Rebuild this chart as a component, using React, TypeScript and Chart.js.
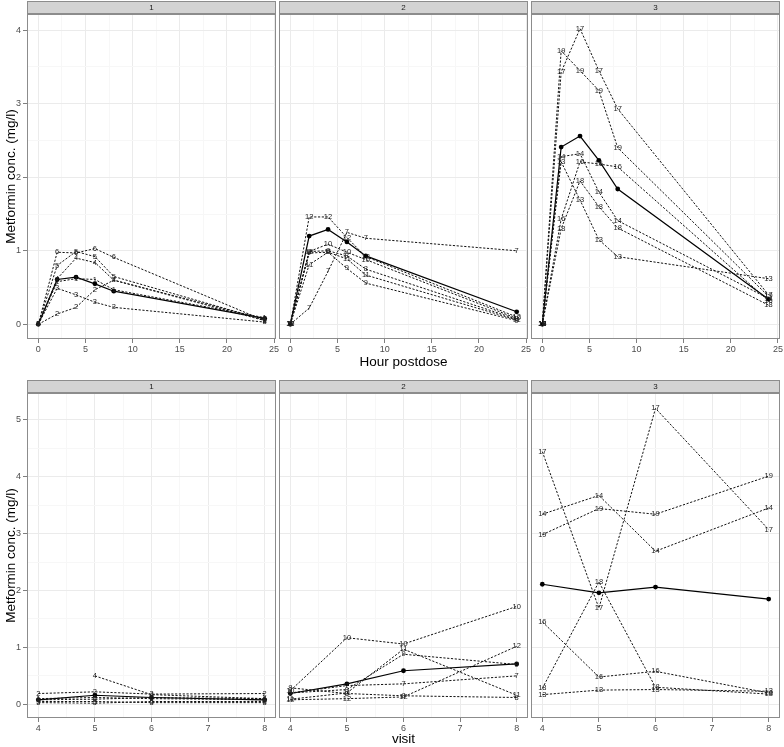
import React, { useEffect, useRef } from 'react';
import { Chart, registerables } from 'chart.js';

Chart.register(...registerables);

const FONT = '"Liberation Sans", Arial, Helvetica, sans-serif';
Chart.defaults.font.family = FONT;

// ---------- x positions ----------
const HOURS = [0, 2, 4, 6, 8, 24];
const VISITS = [4, 5, 6, 8];

// ---------- tick labels ----------
const HOUR_TICKS = [0, 5, 10, 15, 20, 25];
const HOUR_MINOR = [2.5, 7.5, 12.5, 17.5, 22.5];
const VISIT_TICKS = [4, 5, 6, 7, 8];
const VISIT_MINOR = [4.5, 5.5, 6.5, 7.5];
const CONC_TICKS_TOP = [0, 1, 2, 3, 4];
const CONC_MINOR_TOP = [0.5, 1.5, 2.5, 3.5];
const CONC_TICKS_BOTTOM = [0, 1, 2, 3, 4, 5];
const CONC_MINOR_BOTTOM = [0.5, 1.5, 2.5, 3.5, 4.5];

const STRIPS = ['1', '2', '3'];
const Y_TITLE = 'Metformin conc. (mg/l)';
const X_TITLE_TOP = 'Hour postdose';
const X_TITLE_BOTTOM = 'visit';

// ---------- top row: concentration by hour postdose ----------
// group 1
const hourG1_s6 = [0, 0.98, 0.97, 1.03, 0.91, 0.05];
const hourG1_s5 = [0, 0.8, 0.99, 0.92, 0.65, 0.06];
const hourG1_s4 = [0, 0.62, 0.9, 0.84, 0.6, 0.07];
const hourG1_s1 = [0, 0.58, 0.62, 0.61, 0.47, 0.09];
const hourG1_s3 = [0, 0.49, 0.4, 0.3, 0.23, 0.03];
const hourG1_s2 = [0, 0.14, 0.23, 0.47, 0.6, 0.05];
const hourG1_mean = [0, 0.61, 0.64, 0.55, 0.45, 0.08];
// group 2
const hourG2_s12 = [0, 1.46, 1.46, 1.18, 0.92, 0.1];
const hourG2_s7 = [0, 0.22, 0.72, 1.25, 1.17, 1.0];
const hourG2_s10 = [0, 0.99, 1.09, 0.98, 0.88, 0.08];
const hourG2_s8 = [0, 0.99, 1.0, 0.93, 0.75, 0.07];
const hourG2_s11 = [0, 0.81, 0.98, 0.89, 0.67, 0.06];
const hourG2_s9 = [0, 0.97, 0.98, 0.76, 0.56, 0.05];
const hourG2_mean = [0, 1.2, 1.29, 1.12, 0.93, 0.17];
// group 3
const hourG3_s17 = [0, 3.43, 4.02, 3.45, 2.93, 0.4];
const hourG3_s19 = [0, 3.72, 3.45, 3.18, 2.4, 0.38];
const hourG3_s14 = [0, 2.28, 2.32, 1.8, 1.41, 0.35];
const hourG3_s13 = [0, 2.21, 1.69, 1.15, 0.92, 0.62];
const hourG3_s16 = [0, 1.43, 2.21, 2.18, 2.14, 0.32];
const hourG3_s18 = [0, 1.3, 1.95, 1.6, 1.31, 0.26];
const hourG3_mean = [0, 2.41, 2.56, 2.23, 1.84, 0.34];

// ---------- bottom row: concentration by visit ----------
// group 1
const visitG1_s2 = [0.19, 0.22, 0.18, 0.19];
const visitG1_s4 = [null, 0.5, 0.17, 0.1];
const visitG1_s1 = [0.1, 0.12, 0.1, 0.08];
const visitG1_s6 = [0.08, 0.09, 0.12, 0.1];
const visitG1_s3 = [0.05, 0.05, 0.03, 0.03];
const visitG1_s5 = [0.03, 0.02, 0.05, 0.05];
const visitG1_mean = [0.08, 0.16, 0.12, 0.08];
// group 2
const visitG2_s10 = [0.24, 1.17, 1.06, 1.72];
const visitG2_s11 = [0.09, 0.2, 0.97, 0.16];
const visitG2_s9 = [0.2, 0.26, 0.88, 0.7];
const visitG2_s12 = [0.08, 0.1, 0.13, 1.02];
const visitG2_s7 = [0.2, 0.33, 0.36, 0.5];
const visitG2_s8 = [0.29, 0.19, 0.15, 0.12];
const visitG2_mean = [0.19, 0.36, 0.59, 0.71];
// group 3
const visitG3_s17 = [4.44, 1.69, 5.2, 3.07];
const visitG3_s19 = [2.98, 3.44, 3.34, 4.01];
const visitG3_s14 = [3.34, 3.67, 2.69, 3.45];
const visitG3_s18 = [0.28, 2.15, 0.3, 0.18];
const visitG3_s16 = [1.45, 0.48, 0.58, 0.2];
const visitG3_s13 = [0.17, 0.25, 0.26, 0.23];
const visitG3_mean = [2.11, 1.96, 2.06, 1.85];

type Series = { label: string; values: (number | null)[] };
type PanelDef = { strip: string; xs: number[]; series: Series[]; mean: number[] };

const TOP_PANELS: PanelDef[] = [
  {
    strip: STRIPS[0], xs: HOURS, mean: hourG1_mean,
    series: [
      { label: '6', values: hourG1_s6 }, { label: '5', values: hourG1_s5 },
      { label: '4', values: hourG1_s4 }, { label: '1', values: hourG1_s1 },
      { label: '3', values: hourG1_s3 }, { label: '2', values: hourG1_s2 },
    ],
  },
  {
    strip: STRIPS[1], xs: HOURS, mean: hourG2_mean,
    series: [
      { label: '12', values: hourG2_s12 }, { label: '7', values: hourG2_s7 },
      { label: '10', values: hourG2_s10 }, { label: '8', values: hourG2_s8 },
      { label: '11', values: hourG2_s11 }, { label: '9', values: hourG2_s9 },
    ],
  },
  {
    strip: STRIPS[2], xs: HOURS, mean: hourG3_mean,
    series: [
      { label: '17', values: hourG3_s17 }, { label: '19', values: hourG3_s19 },
      { label: '14', values: hourG3_s14 }, { label: '13', values: hourG3_s13 },
      { label: '16', values: hourG3_s16 }, { label: '18', values: hourG3_s18 },
    ],
  },
];

const BOTTOM_PANELS: PanelDef[] = [
  {
    strip: STRIPS[0], xs: VISITS, mean: visitG1_mean,
    series: [
      { label: '2', values: visitG1_s2 }, { label: '4', values: visitG1_s4 },
      { label: '1', values: visitG1_s1 }, { label: '6', values: visitG1_s6 },
      { label: '3', values: visitG1_s3 }, { label: '5', values: visitG1_s5 },
    ],
  },
  {
    strip: STRIPS[1], xs: VISITS, mean: visitG2_mean,
    series: [
      { label: '10', values: visitG2_s10 }, { label: '11', values: visitG2_s11 },
      { label: '9', values: visitG2_s9 }, { label: '12', values: visitG2_s12 },
      { label: '7', values: visitG2_s7 }, { label: '8', values: visitG2_s8 },
    ],
  },
  {
    strip: STRIPS[2], xs: VISITS, mean: visitG3_mean,
    series: [
      { label: '17', values: visitG3_s17 }, { label: '19', values: visitG3_s19 },
      { label: '14', values: visitG3_s14 }, { label: '18', values: visitG3_s18 },
      { label: '16', values: visitG3_s16 }, { label: '13', values: visitG3_s13 },
    ],
  },
];

// ---------- layout ----------
const COLS = [
  { left: 0, width: 284, padLeft: 0, padRight: 8, yAxisW: 27 },
  { left: 271, width: 265, padLeft: 8, padRight: 8, yAxisW: 0 },
  { left: 523, width: 261, padLeft: 8, padRight: 4, yAxisW: 0 },
];
const ROWS = [
  { top: 0, height: 373, padTop: 14, xAxisH: 34, titlePadBottom: 3 },
  { top: 374, height: 373, padTop: 19, xAxisH: 29, titlePadBottom: 0 },
];

const panelDecoPlugin = {
  id: 'panelDeco',
  afterDraw(chart: any, _args: any, opts: any) {
    const { ctx, chartArea } = chart;
    const l = Math.round(chartArea.left) + 0.5;
    const t = Math.round(chartArea.top) + 0.5;
    const w = Math.round(chartArea.right - chartArea.left) - 1;
    const h = Math.round(chartArea.bottom - chartArea.top) - 1;
    ctx.save();
    // strip
    ctx.fillStyle = '#d3d3d3';
    ctx.fillRect(l, t - 13, w, 12);
    ctx.strokeStyle = '#8c8c8c';
    ctx.lineWidth = 1;
    ctx.strokeRect(l, t - 13, w, 12);
    ctx.fillStyle = '#1a1a1a';
    ctx.font = `8px ${FONT}`;
    ctx.textAlign = 'center';
    ctx.textBaseline = 'middle';
    ctx.fillText(opts.strip, l + w / 2, t - 6.5);
    // panel border
    ctx.strokeStyle = '#8c8c8c';
    ctx.strokeRect(l, t, w, h);
    ctx.restore();
  },
};

const pointTextPlugin = {
  id: 'pointText',
  afterDatasetsDraw(chart: any) {
    const ctx = chart.ctx;
    ctx.save();
    ctx.font = `7.5px ${FONT}`;
    ctx.fillStyle = '#222';
    ctx.textAlign = 'center';
    ctx.textBaseline = 'middle';
    chart.data.datasets.forEach((ds: any, i: number) => {
      if (!ds.pointText) return;
      const meta = chart.getDatasetMeta(i);
      meta.data.forEach((el: any, j: number) => {
        const raw = ds.data[j];
        if (!raw || raw.y == null) return;
        ctx.fillText(ds.pointText, el.x, el.y);
      });
    });
    ctx.restore();
  },
};

function Panel({ def, row, col }: { def: PanelDef; row: number; col: number }) {
  const ref = useRef<HTMLCanvasElement | null>(null);
  const C = COLS[col];
  const R = ROWS[row];

  useEffect(() => {
    if (!ref.current) return;
    const isTop = row === 0;
    const xMajor = isTop ? HOUR_TICKS : VISIT_TICKS;
    const xMinor = isTop ? HOUR_MINOR : VISIT_MINOR;
    const yMajor = isTop ? CONC_TICKS_TOP : CONC_TICKS_BOTTOM;
    const yMinor = isTop ? CONC_MINOR_TOP : CONC_MINOR_BOTTOM;
    const xAll = [...xMajor, ...xMinor].sort((a, b) => a - b);
    const yAll = [...yMajor, ...yMinor].sort((a, b) => a - b);
    const xRange = isTop ? [-1.2, 25.2] : [3.8, 8.2];
    const yRange = isTop ? [-0.2, 4.22] : [-0.24, 5.47];

    const datasets: any[] = def.series.map((s) => ({
      label: s.label,
      pointText: s.label,
      data: def.xs.map((x, i) => ({ x, y: s.values[i] })),
      borderColor: '#111',
      borderWidth: 1,
      borderDash: [2.2, 1.6],
      pointRadius: 0,
      pointHoverRadius: 0,
      fill: false,
      tension: 0,
      spanGaps: false,
    }));
    datasets.push({
      label: 'mean',
      data: def.xs.map((x, i) => ({ x, y: def.mean[i] })),
      borderColor: '#000',
      borderWidth: 1.2,
      pointRadius: 2.4,
      pointBackgroundColor: '#000',
      pointBorderWidth: 0,
      fill: false,
      tension: 0,
    });

    const chart = new Chart(ref.current, {
      type: 'line',
      data: { datasets },
      plugins: [panelDecoPlugin, pointTextPlugin],
      options: {
        responsive: false,
        animation: false,
        devicePixelRatio: 1,
        events: [],
        layout: { padding: { top: R.padTop, left: C.padLeft, right: C.padRight, bottom: 0 } },
        plugins: {
          legend: { display: false },
          tooltip: { enabled: false },
          panelDeco: { strip: def.strip },
        } as any,
        scales: {
          x: {
            type: 'linear',
            min: xRange[0],
            max: xRange[1],
            bounds: 'data',
            afterBuildTicks: (s: any) => {
              s.ticks = xAll.map((v) => ({ value: v }));
            },
            afterFit: (s: any) => {
              s.height = R.xAxisH;
            },
            ticks: {
              autoSkip: false,
              maxRotation: 0,
              padding: 1,
              color: '#4d4d4d',
              font: { size: 9, family: FONT },
              callback: (v: any) => (xMajor.includes(Number(v)) ? String(v) : ''),
            },
            grid: {
              color: (ctx: any) => (xMajor.includes(ctx.tick?.value) ? '#ebebeb' : '#f7f7f7'),
              tickColor: (ctx: any) => (xMajor.includes(ctx.tick?.value) ? '#7f7f7f' : 'rgba(0,0,0,0)'),
              tickLength: 4,
              lineWidth: 1,
            },
            border: { display: false },
            title: {
              display: col === 1,
              text: isTop ? X_TITLE_TOP : X_TITLE_BOTTOM,
              color: '#000',
              font: { size: 13.5, family: FONT },
              padding: { top: 0, bottom: R.titlePadBottom },
            },
          },
          y: {
            type: 'linear',
            min: yRange[0],
            max: yRange[1],
            bounds: 'data',
            afterBuildTicks: (s: any) => {
              s.ticks = yAll.map((v) => ({ value: v }));
            },
            afterFit: (s: any) => {
              s.width = C.yAxisW;
            },
            ticks: {
              display: col === 0,
              autoSkip: false,
              padding: 2,
              color: '#4d4d4d',
              font: { size: 9, family: FONT },
              callback: (v: any) => (yMajor.includes(Number(v)) ? String(v) : ''),
            },
            grid: {
              color: (ctx: any) => (yMajor.includes(ctx.tick?.value) ? '#ebebeb' : '#f7f7f7'),
              tickColor: (ctx: any) => (yMajor.includes(ctx.tick?.value) ? '#7f7f7f' : 'rgba(0,0,0,0)'),
              tickLength: 4,
              drawTicks: col === 0,
              lineWidth: 1,
            },
            border: { display: false },
            title: {
              display: col === 0,
              text: Y_TITLE,
              color: '#000',
              font: { size: 13.5, family: FONT },
              padding: { top: 3, bottom: 0 },
            },
          },
        },
      } as any,
    });
    return () => chart.destroy();
  }, [def, row, col]);

  return (
    <canvas
      ref={ref}
      width={C.width}
      height={R.height}
      style={{ position: 'absolute', left: C.left, top: R.top, width: C.width, height: R.height }}
    />
  );
}

export default function App() {
  return (
    <div style={{ position: 'absolute', left: 0, top: 0, width: 784, height: 747, background: '#fff', overflow: 'hidden' }}>
      {TOP_PANELS.map((p, i) => (
        <Panel key={'t' + i} def={p} row={0} col={i} />
      ))}
      {BOTTOM_PANELS.map((p, i) => (
        <Panel key={'b' + i} def={p} row={1} col={i} />
      ))}
    </div>
  );
}
